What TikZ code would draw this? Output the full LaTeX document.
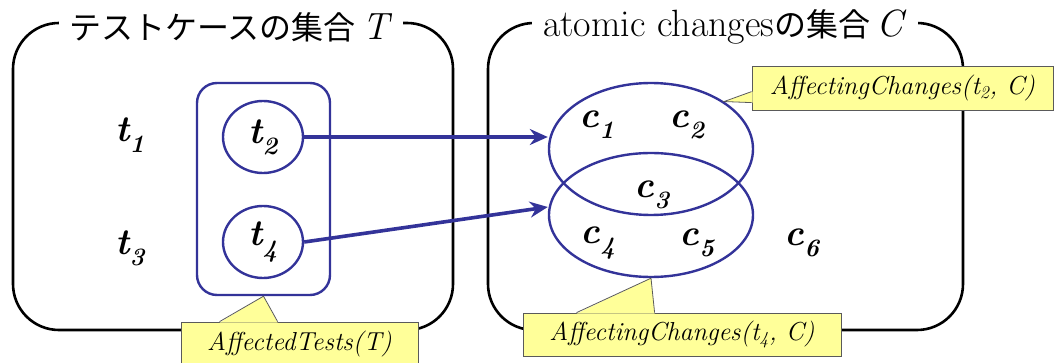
\documentclass[tikz,border=0pt]{standalone}
\usepackage{fontspec}
\newfontfamily\jpfont{Noto Sans CJK JP}
\usetikzlibrary{arrows.meta,calc,positioning,shapes.geometric}
\definecolor{setBlue}{HTML}{333399}
\definecolor{noteYellow}{HTML}{FFFF99}
\definecolor{noteGray}{HTML}{5A5A5A}
\newcommand{\elem}[2]{{\bfseries\itshape #1\raisebox{-.3em}{\fontsize{25}{25}\selectfont #2}}}

\begin{document}
\begin{tikzpicture}[x=1pt,y=-1pt,
  setbox/.style={black,line width=2.6pt,rounded corners=46pt},
  settitle/.style={fill=white,inner xsep=11pt,inner ysep=2pt,font=\fontsize{38}{42}\selectfont},
  member/.style={font=\fontsize{37}{40}\selectfont,inner sep=0pt},
  subset/.style={ellipse,draw=setBlue,line width=2.4pt,inner sep=0pt},
  link/.style={setBlue,line width=3.6pt,-{Stealth[length=18pt,width=16pt,inset=6pt]}},
  note/.style={fill=noteYellow,draw=noteGray,line width=0.8pt,inner sep=0pt,font=\itshape\fontsize{26}{28}\selectfont\addfontfeature{LetterSpace=2}},
  noteline/.style={draw=noteGray,line width=0.8pt}]
\useasboundingbox (0,0) rectangle (1055,363);
\draw[setbox] (13,23) rectangle (453,330);
\draw[setbox] (488,23) rectangle (963,330);
\node[settitle] (titleT) at (231,27) {{\jpfont\fontsize{32}{36}\selectfont テストケースの集合}\,\textit{T}};
\node[settitle] (titleC) at (725,27) {atomic changes{\jpfont\fontsize{32}{36}\selectfont の集合}\,\textit{C}};
\node[draw=setBlue,line width=2.4pt,rounded corners=20pt,minimum width=133,minimum height=212] (affT) at (263.5,189) {};
\node[subset,minimum width=80,minimum height=72] (t2) at (263,137) {\fontsize{37}{40}\selectfont\elem{t}{2}};
\node[subset,minimum width=80,minimum height=72] (t4) at (263,242) {\fontsize{37}{40}\selectfont\elem{t}{4}};
\node[member] (t1) at (130,135) {\elem{t}{1}};
\node[member] (t3) at (130,248) {\elem{t}{3}};
\node[subset,minimum width=204,minimum height=132] (chgA) at (651,149) {};
\node[subset,minimum width=204,minimum height=124] (chgB) at (651,215) {};
\foreach \n/\x/\y in {1/597/125,2/687/125,3/652/195,4/598/243,5/697/243,6/802/243}
  \node[member] (c\n) at (\x,\y) {\elem{c}{\n}};
\draw[link] (t2.east) -- (t2.east -| chgA.west);
\draw[link] (t4.east) -- ([yshift=8pt]chgB.west);
\node[note,minimum width=301,minimum height=44] (noteA) at (902.5,88) {AffectingChanges(t\textsubscript{2}, C)};
\fill[noteYellow] ($(noteA.north west)+(1,26)$) -- (chgA.33.5) -- ($(noteA.north west)+(1,37)$) -- cycle;
\draw[noteline] ($(noteA.north west)+(0,26)$) -- (chgA.33.5) -- ($(noteA.north west)+(0,37)$);
\node[note,minimum width=318,minimum height=43] (noteB) at (682,334.5) {AffectingChanges(t\textsubscript{4}, C)};
\fill[noteYellow] ($(noteB.north west)+(54,1)$) -- (chgB.south) -- ($(noteB.north west)+(132,1)$) -- cycle;
\draw[noteline] ($(noteB.north west)+(54,0)$) -- (chgB.south) -- ($(noteB.north west)+(132,0)$);
\node[note,minimum width=237,minimum height=44] (noteT) at (299.5,344) {AffectedTests(T)};
\fill[noteYellow] ($(noteT.north west)+(39,1)$) -- (affT.south) -- ($(noteT.north west)+(97,1)$) -- cycle;
\draw[noteline] ($(noteT.north west)+(39,0)$) -- (affT.south) -- ($(noteT.north west)+(97,0)$);
\end{tikzpicture}
\end{document}
